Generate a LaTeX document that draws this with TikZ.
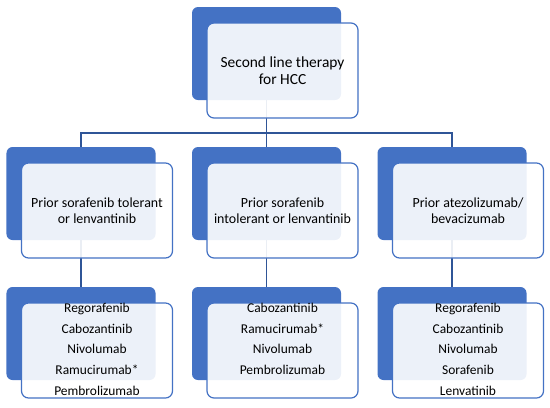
\documentclass[tikz,border=0pt]{standalone}
\usepackage{fontspec}
\setmainfont{Carlito}
\usepackage{tikz}
\usetikzlibrary{positioning,calc}
\definecolor{accentblue}{HTML}{4472C4}
\definecolor{linkblue}{HTML}{2F5597}
\tikzset{
  shadebox/.style={fill=accentblue, rounded corners=6bp, minimum width=149bp, minimum height=93bp, inner sep=0pt, outer sep=0pt},
  cardbox/.style={draw=accentblue, line width=1.2bp, fill=white, fill opacity=0.9, text opacity=1, rounded corners=7bp, minimum width=151bp, minimum height=95bp, inner sep=0pt, outer sep=0pt, align=center, font=\fontsize{14}{16.5}\selectfont},
  listtext/.style={inner sep=0pt, outer sep=0pt, align=center, font=\fontsize{13.5}{20.75}\selectfont},
  conn/.style={draw=linkblue, line width=1.5bp},
}

\begin{document}
\begin{tikzpicture}[x=1bp, y=-1bp]
  \useasboundingbox (0,0) rectangle (550,407);

  % back panels
  \node[shadebox] (topB)   at (266.5,53.5)  {};
  \node[shadebox] (leftB)  at (81,193.5)    {};
  \node[shadebox] (midB)   at (266.5,193.5) {};
  \node[shadebox] (rightB) at (452,193.5)   {};
  \node[shadebox] (leftLB)  at (81,333.5)    {};
  \node[shadebox] (midLB)   at (266.5,333.5) {};
  \node[shadebox] (rightLB) at (452,333.5)   {};

  % connectors
  \coordinate (bus) at (266.5,133);
  \draw[conn] (topB.south) -- (midB.north);
  \draw[conn] (leftB.north) |- (bus) -| (rightB.north);
  \draw[conn] (leftB.south) -- (leftLB.north);
  \draw[conn] (midB.south) -- (midLB.north);
  \draw[conn] (rightB.south) -- (rightLB.north);

  % front cards
  \node[cardbox, font=\fontsize{15.5}{16.5}\selectfont] (topF) at (282.5,70.5) {Second line therapy\\for HCC};
  \node[cardbox] (leftF)  at (97,210.5)    {Prior sorafenib tolerant\\or lenvantinib};
  \node[cardbox] (midF)   at (282.5,210.5) {Prior sorafenib\\intolerant or lenvantinib};
  \node[cardbox] (rightF) at (468,210.5)   {Prior atezolizumab/\\bevacizumab};
  \node[cardbox] (leftLF)  at (97,350.5)    {};
  \node[cardbox] (midLF)   at (282.5,350.5) {};
  \node[cardbox] (rightLF) at (468,350.5)   {};

  % drug lists
  \node[listtext, anchor=north] (leftL)  at (leftLF.north)
    {Regorafenib\\Cabozantinib\\Nivolumab\\Ramucirumab*\\Pembrolizumab};
  \node[listtext, anchor=north] (midL)   at (midLF.north)
    {Cabozantinib\\Ramucirumab*\\Nivolumab\\Pembrolizumab};
  \node[listtext, anchor=north] (rightL) at (rightLF.north)
    {Regorafenib\\Cabozantinib\\Nivolumab\\Sorafenib\\Lenvatinib};
\end{tikzpicture}
\end{document}
